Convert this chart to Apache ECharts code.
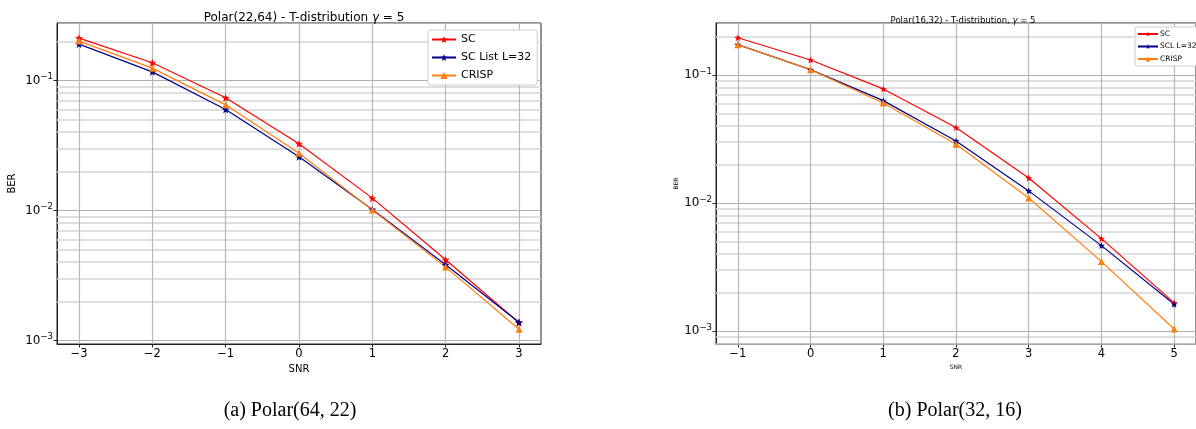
<!DOCTYPE html>
<html><head><meta charset="utf-8">
<script src="https://cdn.jsdelivr.net/npm/echarts@6/dist/echarts.min.js"></script>
<style>html,body{margin:0;padding:0;background:#fff}#c{width:1196px;height:429px}</style>
</head><body><div id="c"></div>
<script>
// ---- data (a) Polar(22,64) ----
const snrA = [-3, -2, -1, 0, 1, 2, 3];
const scA = [0.212, 0.137, 0.0736, 0.0326, 0.01245, 0.00418, 0.00137];
const sclA = [0.1905, 0.1166, 0.0598, 0.0259, 0.0102, 0.00382, 0.00138];
const crispA = [0.201, 0.1245, 0.065, 0.0276, 0.0101, 0.00367, 0.00122];
// ---- data (b) Polar(16,32) ----
const snrB = [-1, 0, 1, 2, 3, 4, 5];
const scB = [0.1954, 0.131, 0.0778, 0.0388, 0.01567, 0.00526, 0.001655];
const sclB = [0.1725, 0.110, 0.063, 0.0305, 0.01242, 0.00464, 0.001615];
const crispB = [0.1725, 0.110, 0.0604, 0.0287, 0.01094, 0.00348, 0.001035];
// ---- ticks ----
const xTicksA = [-3, -2, -1, 0, 1, 2, 3];
const xTicksB = [-1, 0, 1, 2, 3, 4, 5];
const minorY = [0.0008, 0.0009, 0.002, 0.003, 0.004, 0.005, 0.006, 0.007, 0.008, 0.009,
                0.02, 0.03, 0.04, 0.05, 0.06, 0.07, 0.08, 0.09, 0.2];
const legendA = ['SC', 'SC List L=32', 'CRISP'];
const legendB = ['SC', 'SCL L=32', 'CRISP'];

const FONT = 'DejaVu Sans';
const STAR = 'path://M0,-10 L2.35,-3.24 L9.51,-3.09 L3.8,1.24 L5.88,8.09 L0,4 L-5.88,8.09 L-3.8,1.24 L-9.51,-3.09 L-2.35,-3.24 Z';
const RED = '#ff0000', NAVY = '#00008b', ORANGE = '#ff7f0e';

function logLabel(v) {
  const e = Math.round(Math.log10(v));
  if (Math.abs(v / Math.pow(10, e) - 1) > 1e-6) return '';
  return '{b|10}{s|' + (e < 0 ? '\u2212' : '') + Math.abs(e) + '}';
}
function mkX(idx, min, max, ticks, nameSize) {
  return {
    type: 'value', gridIndex: idx, min: min, max: max,
    axisLine: { show: true, onZero: false, lineStyle: { color: '#222', width: 1 } },
    axisTick: { show: true, length: 3.5, customValues: ticks, lineStyle: { color: '#222' } },
    axisLabel: { customValues: ticks, fontSize: 11.5, fontFamily: FONT, color: '#000', margin: 4,
      formatter: v => (v < 0 ? '\u2212' : '') + Math.abs(v) },
    splitLine: { show: false },
    name: 'SNR', nameLocation: 'middle', nameGap: nameSize > 8 ? 18 : 17,
    nameTextStyle: { fontSize: nameSize, fontFamily: FONT, color: '#000' }
  };
}
function mkY(idx, min, max, nameSize, nameGap) {
  return {
    type: 'log', logBase: 10, gridIndex: idx, min: min, max: max, position: 'left',
    axisLine: { show: true, onZero: false, lineStyle: { color: '#222', width: 1 } },
    axisTick: { show: true, length: 3.5, lineStyle: { color: '#222' } },
    axisLabel: { formatter: logLabel, margin: 4, showMinLabel: false, showMaxLabel: false,
      rich: { b: { fontSize: 12, fontFamily: FONT, color: '#000' },
              s: { fontSize: 8.5, fontFamily: FONT, color: '#000', padding: [0, 0, 7, 0] } } },
    splitLine: { show: true, lineStyle: { color: '#b0b0b0', width: 1 } },
    name: 'BER', nameLocation: 'middle', nameGap: nameGap,
    nameTextStyle: { fontSize: nameSize, fontFamily: FONT, color: '#000' }
  };
}
function gridLines(xt, lo, hi) {
  const d = [];
  minorY.filter(v => v > lo && v < hi).forEach(v => d.push({ yAxis: v, lineStyle: { color: '#d4d4d4', width: 1.5 } }));
  xt.forEach(v => d.push({ xAxis: v, lineStyle: { color: '#b8b8b8', width: 1.2 } }));
  return { silent: true, symbol: ['none', 'none'], label: { show: false }, z: 1, precision: 8,
    emphasis: { disabled: true }, animation: false, lineStyle: { type: 'solid' }, data: d };
}
function mkSeries(name, idx, xs, ys, color, sym, size, ml) {
  const s = {
    name: name, type: 'line', xAxisIndex: idx, yAxisIndex: idx,
    data: xs.map((x, i) => [x, ys[i]]),
    symbol: sym, symbolSize: size, showSymbol: true,
    lineStyle: { color: color, width: 1.2 }, itemStyle: { color: color },
    emphasis: { disabled: true }, z: 3, animation: false
  };
  if (ml) s.markLine = ml;
  return s;
}
const A = { lo: 0.00094, hi: 0.277 };
const B = { lo: 0.00079, hi: 0.2547 };

const option = {
  animation: false,
  backgroundColor: '#fff',
  title: [
    { text: 'Polar(22,64) - T-distribution {i|\u03b3} = 5', left: 299, top: 7, textAlign: 'center',
      textStyle: { fontSize: 12, fontWeight: 'normal', fontFamily: FONT, color: '#000',
        rich: { i: { fontSize: 12, fontStyle: 'italic', fontFamily: FONT, color: '#000' } } } },
    { text: 'Polar(16,32) - T-distribution, {i|\u03b3} = 5', left: 958, top: 11, textAlign: 'center',
      textStyle: { fontSize: 8.5, fontWeight: 'normal', fontFamily: FONT, color: '#000',
        rich: { i: { fontSize: 8.5, fontStyle: 'italic', fontFamily: FONT, color: '#000' } } } }
  ],
  grid: [
    { left: 57, top: 23, width: 484, height: 321, show: true, borderColor: '#222', borderWidth: 1, backgroundColor: 'transparent' },
    { left: 716, top: 23, width: 484, height: 321, show: true, borderColor: '#222', borderWidth: 1, backgroundColor: 'transparent' }
  ],
  xAxis: [ mkX(0, -3.3, 3.3, xTicksA, 10), mkX(1, -1.3, 5.3, xTicksB, 6) ],
  yAxis: [ mkY(0, A.lo, A.hi, 10, 40), mkY(1, B.lo, B.hi, 6, 37) ],
  legend: [
    { data: legendA, orient: 'vertical', left: 428, top: 30, itemWidth: 24, itemHeight: 9, itemGap: 7,
      padding: [4, 6, 4, 3], backgroundColor: '#fff', borderColor: '#cccccc', borderWidth: 1, borderRadius: 3,
      selectedMode: false, textStyle: { fontSize: 11, fontFamily: FONT, color: '#000' } },
    { data: legendB, orient: 'vertical', left: 1135, top: 27, itemWidth: 20, itemHeight: 6, itemGap: 4.5,
      padding: [3, 6, 3, 2], backgroundColor: '#fff', borderColor: '#cccccc', borderWidth: 1, borderRadius: 2,
      selectedMode: false, textStyle: { fontSize: 7.5, fontFamily: FONT, color: '#000', padding: [0, 0, 0, -3] } }
  ],
  series: [
    mkSeries('SC', 0, snrA, scA, RED, STAR, 8, gridLines(xTicksA, A.lo, A.hi)),
    mkSeries('SC List L=32', 0, snrA, sclA, NAVY, STAR, 8),
    mkSeries('CRISP', 0, snrA, crispA, ORANGE, 'triangle', 7),
    mkSeries('SC', 1, snrB, scB, RED, STAR, 7, gridLines(xTicksB, B.lo, B.hi)),
    mkSeries('SCL L=32', 1, snrB, sclB, NAVY, STAR, 7),
    mkSeries('CRISP', 1, snrB, crispB, ORANGE, 'triangle', 7)
  ],
  graphic: [
    { type: 'text', x: 290, y: 411, style: { text: '(a) Polar(64, 22)', textAlign: 'center', textVerticalAlign: 'middle',
      font: '20px "Liberation Serif"', fill: '#000' } },
    { type: 'text', x: 955, y: 411, style: { text: '(b) Polar(32, 16)', textAlign: 'center', textVerticalAlign: 'middle',
      font: '20px "Liberation Serif"', fill: '#000' } }
  ]
};
const chart = echarts.init(document.getElementById('c'));
chart.setOption(option);
</script>
</body></html>
